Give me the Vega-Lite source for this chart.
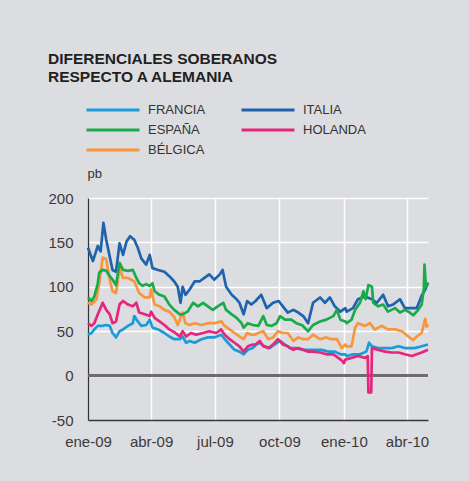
{
  "$schema": "https://vega.github.io/schema/vega-lite/v6.json",
  "width": 340,
  "height": 222,
  "autosize": {"type": "none"},
  "padding": {"left": 88, "top": 198, "right": 41, "bottom": 61},
  "background": "#dcdde0",
  "config": {"view": {"stroke": null}, "font": "Liberation Sans"},
  "title": {
    "text": ["DIFERENCIALES SOBERANOS", "RESPECTO A ALEMANIA"],
    "anchor": "start",
    "frame": "group",
    "dx": -40,
    "dy": -14,
    "font": "Liberation Sans",
    "fontSize": 15.5,
    "fontWeight": "bold",
    "color": "#231f20",
    "lineHeight": 18
  },
  "data": {
    "values": [
      {"d":"2009-01-01","p":"FRANCIA","v":46},{"d":"2009-01-06","p":"FRANCIA","v":48},{"d":"2009-01-10","p":"FRANCIA","v":52},{"d":"2009-01-15","p":"FRANCIA","v":56},{"d":"2009-01-22","p":"FRANCIA","v":56},{"d":"2009-01-27","p":"FRANCIA","v":57},{"d":"2009-02-01","p":"FRANCIA","v":56},{"d":"2009-02-05","p":"FRANCIA","v":48},{"d":"2009-02-10","p":"FRANCIA","v":43},{"d":"2009-02-15","p":"FRANCIA","v":50},{"d":"2009-02-20","p":"FRANCIA","v":52},{"d":"2009-02-27","p":"FRANCIA","v":56},{"d":"2009-03-06","p":"FRANCIA","v":59},{"d":"2009-03-08","p":"FRANCIA","v":67},{"d":"2009-03-13","p":"FRANCIA","v":61},{"d":"2009-03-18","p":"FRANCIA","v":56},{"d":"2009-03-25","p":"FRANCIA","v":57},{"d":"2009-03-30","p":"FRANCIA","v":63},{"d":"2009-04-03","p":"FRANCIA","v":54},{"d":"2009-04-11","p":"FRANCIA","v":52},{"d":"2009-04-20","p":"FRANCIA","v":48},{"d":"2009-04-27","p":"FRANCIA","v":44},{"d":"2009-05-04","p":"FRANCIA","v":41},{"d":"2009-05-12","p":"FRANCIA","v":41},{"d":"2009-05-16","p":"FRANCIA","v":44},{"d":"2009-05-21","p":"FRANCIA","v":37},{"d":"2009-05-26","p":"FRANCIA","v":39},{"d":"2009-06-02","p":"FRANCIA","v":37},{"d":"2009-06-12","p":"FRANCIA","v":41},{"d":"2009-06-21","p":"FRANCIA","v":43},{"d":"2009-06-30","p":"FRANCIA","v":43},{"d":"2009-07-10","p":"FRANCIA","v":46},{"d":"2009-07-15","p":"FRANCIA","v":41},{"d":"2009-07-22","p":"FRANCIA","v":35},{"d":"2009-07-29","p":"FRANCIA","v":29},{"d":"2009-08-05","p":"FRANCIA","v":27},{"d":"2009-08-11","p":"FRANCIA","v":24},{"d":"2009-08-17","p":"FRANCIA","v":29},{"d":"2009-08-24","p":"FRANCIA","v":31},{"d":"2009-08-29","p":"FRANCIA","v":35},{"d":"2009-09-03","p":"FRANCIA","v":37},{"d":"2009-09-10","p":"FRANCIA","v":33},{"d":"2009-09-17","p":"FRANCIA","v":31},{"d":"2009-09-24","p":"FRANCIA","v":35},{"d":"2009-10-02","p":"FRANCIA","v":39},{"d":"2009-10-09","p":"FRANCIA","v":35},{"d":"2009-10-16","p":"FRANCIA","v":31},{"d":"2009-10-25","p":"FRANCIA","v":31},{"d":"2009-11-04","p":"FRANCIA","v":29},{"d":"2009-11-11","p":"FRANCIA","v":29},{"d":"2009-11-21","p":"FRANCIA","v":29},{"d":"2009-11-30","p":"FRANCIA","v":29},{"d":"2009-12-10","p":"FRANCIA","v":27},{"d":"2009-12-19","p":"FRANCIA","v":27},{"d":"2009-12-27","p":"FRANCIA","v":24},{"d":"2010-01-03","p":"FRANCIA","v":24},{"d":"2010-01-05","p":"FRANCIA","v":22},{"d":"2010-01-14","p":"FRANCIA","v":24},{"d":"2010-01-24","p":"FRANCIA","v":24},{"d":"2010-02-02","p":"FRANCIA","v":27},{"d":"2010-02-06","p":"FRANCIA","v":37},{"d":"2010-02-10","p":"FRANCIA","v":33},{"d":"2010-02-19","p":"FRANCIA","v":31},{"d":"2010-03-01","p":"FRANCIA","v":31},{"d":"2010-03-10","p":"FRANCIA","v":31},{"d":"2010-03-20","p":"FRANCIA","v":33},{"d":"2010-03-29","p":"FRANCIA","v":31},{"d":"2010-04-05","p":"FRANCIA","v":31},{"d":"2010-04-12","p":"FRANCIA","v":31},{"d":"2010-04-22","p":"FRANCIA","v":33},{"d":"2010-05-01","p":"FRANCIA","v":35},

      {"d":"2009-01-01","p":"HOLANDA","v":59},{"d":"2009-01-06","p":"HOLANDA","v":56},{"d":"2009-01-10","p":"HOLANDA","v":59},{"d":"2009-01-15","p":"HOLANDA","v":69},{"d":"2009-01-22","p":"HOLANDA","v":82},{"d":"2009-01-27","p":"HOLANDA","v":74},{"d":"2009-02-01","p":"HOLANDA","v":69},{"d":"2009-02-05","p":"HOLANDA","v":59},{"d":"2009-02-10","p":"HOLANDA","v":61},{"d":"2009-02-15","p":"HOLANDA","v":80},{"d":"2009-02-20","p":"HOLANDA","v":84},{"d":"2009-02-27","p":"HOLANDA","v":80},{"d":"2009-03-06","p":"HOLANDA","v":78},{"d":"2009-03-11","p":"HOLANDA","v":82},{"d":"2009-03-15","p":"HOLANDA","v":71},{"d":"2009-03-23","p":"HOLANDA","v":69},{"d":"2009-03-30","p":"HOLANDA","v":67},{"d":"2009-04-01","p":"HOLANDA","v":72},{"d":"2009-04-06","p":"HOLANDA","v":65},{"d":"2009-04-13","p":"HOLANDA","v":61},{"d":"2009-04-20","p":"HOLANDA","v":57},{"d":"2009-04-27","p":"HOLANDA","v":52},{"d":"2009-05-04","p":"HOLANDA","v":49},{"d":"2009-05-12","p":"HOLANDA","v":44},{"d":"2009-05-16","p":"HOLANDA","v":50},{"d":"2009-05-21","p":"HOLANDA","v":44},{"d":"2009-05-28","p":"HOLANDA","v":48},{"d":"2009-06-04","p":"HOLANDA","v":46},{"d":"2009-06-14","p":"HOLANDA","v":48},{"d":"2009-06-23","p":"HOLANDA","v":50},{"d":"2009-07-03","p":"HOLANDA","v":48},{"d":"2009-07-10","p":"HOLANDA","v":52},{"d":"2009-07-15","p":"HOLANDA","v":46},{"d":"2009-07-22","p":"HOLANDA","v":41},{"d":"2009-07-29","p":"HOLANDA","v":37},{"d":"2009-08-05","p":"HOLANDA","v":33},{"d":"2009-08-11","p":"HOLANDA","v":27},{"d":"2009-08-17","p":"HOLANDA","v":33},{"d":"2009-08-24","p":"HOLANDA","v":35},{"d":"2009-08-28","p":"HOLANDA","v":35},{"d":"2009-09-03","p":"HOLANDA","v":39},{"d":"2009-09-08","p":"HOLANDA","v":33},{"d":"2009-09-15","p":"HOLANDA","v":31},{"d":"2009-09-22","p":"HOLANDA","v":35},{"d":"2009-09-29","p":"HOLANDA","v":41},{"d":"2009-10-06","p":"HOLANDA","v":35},{"d":"2009-10-13","p":"HOLANDA","v":33},{"d":"2009-10-21","p":"HOLANDA","v":29},{"d":"2009-10-28","p":"HOLANDA","v":31},{"d":"2009-11-04","p":"HOLANDA","v":29},{"d":"2009-11-11","p":"HOLANDA","v":27},{"d":"2009-11-18","p":"HOLANDA","v":27},{"d":"2009-11-28","p":"HOLANDA","v":26},{"d":"2009-12-07","p":"HOLANDA","v":24},{"d":"2009-12-17","p":"HOLANDA","v":24},{"d":"2009-12-24","p":"HOLANDA","v":20},{"d":"2009-12-29","p":"HOLANDA","v":17},{"d":"2010-01-01","p":"HOLANDA","v":14},{"d":"2010-01-03","p":"HOLANDA","v":18},{"d":"2010-01-12","p":"HOLANDA","v":20},{"d":"2010-01-21","p":"HOLANDA","v":22},{"d":"2010-01-31","p":"HOLANDA","v":20},{"d":"2010-02-04","p":"HOLANDA","v":22},{"d":"2010-02-05","p":"HOLANDA","v":-19},{"d":"2010-02-09","p":"HOLANDA","v":-19},{"d":"2010-02-10","p":"HOLANDA","v":31},{"d":"2010-02-19","p":"HOLANDA","v":29},{"d":"2010-03-01","p":"HOLANDA","v":27},{"d":"2010-03-10","p":"HOLANDA","v":26},{"d":"2010-03-20","p":"HOLANDA","v":26},{"d":"2010-03-29","p":"HOLANDA","v":24},{"d":"2010-04-08","p":"HOLANDA","v":22},{"d":"2010-04-15","p":"HOLANDA","v":24},{"d":"2010-04-22","p":"HOLANDA","v":26},{"d":"2010-05-01","p":"HOLANDA","v":29},

      {"d":"2009-01-01","p":"BÉLGICA","v":82},{"d":"2009-01-06","p":"BÉLGICA","v":80},{"d":"2009-01-13","p":"BÉLGICA","v":86},{"d":"2009-01-17","p":"BÉLGICA","v":104},{"d":"2009-01-22","p":"BÉLGICA","v":133},{"d":"2009-01-27","p":"BÉLGICA","v":131},{"d":"2009-02-01","p":"BÉLGICA","v":108},{"d":"2009-02-05","p":"BÉLGICA","v":95},{"d":"2009-02-10","p":"BÉLGICA","v":93},{"d":"2009-02-15","p":"BÉLGICA","v":121},{"d":"2009-02-20","p":"BÉLGICA","v":110},{"d":"2009-02-27","p":"BÉLGICA","v":110},{"d":"2009-03-08","p":"BÉLGICA","v":106},{"d":"2009-03-15","p":"BÉLGICA","v":93},{"d":"2009-03-23","p":"BÉLGICA","v":88},{"d":"2009-03-30","p":"BÉLGICA","v":88},{"d":"2009-04-01","p":"BÉLGICA","v":97},{"d":"2009-04-06","p":"BÉLGICA","v":80},{"d":"2009-04-13","p":"BÉLGICA","v":78},{"d":"2009-04-20","p":"BÉLGICA","v":74},{"d":"2009-04-27","p":"BÉLGICA","v":72},{"d":"2009-05-04","p":"BÉLGICA","v":66},{"d":"2009-05-09","p":"BÉLGICA","v":57},{"d":"2009-05-16","p":"BÉLGICA","v":71},{"d":"2009-05-20","p":"BÉLGICA","v":59},{"d":"2009-05-26","p":"BÉLGICA","v":57},{"d":"2009-06-02","p":"BÉLGICA","v":59},{"d":"2009-06-12","p":"BÉLGICA","v":57},{"d":"2009-06-21","p":"BÉLGICA","v":59},{"d":"2009-06-30","p":"BÉLGICA","v":59},{"d":"2009-07-10","p":"BÉLGICA","v":61},{"d":"2009-07-15","p":"BÉLGICA","v":56},{"d":"2009-07-22","p":"BÉLGICA","v":52},{"d":"2009-07-29","p":"BÉLGICA","v":48},{"d":"2009-08-05","p":"BÉLGICA","v":44},{"d":"2009-08-11","p":"BÉLGICA","v":41},{"d":"2009-08-16","p":"BÉLGICA","v":48},{"d":"2009-08-22","p":"BÉLGICA","v":46},{"d":"2009-08-27","p":"BÉLGICA","v":46},{"d":"2009-09-01","p":"BÉLGICA","v":48},{"d":"2009-09-08","p":"BÉLGICA","v":50},{"d":"2009-09-15","p":"BÉLGICA","v":41},{"d":"2009-09-22","p":"BÉLGICA","v":43},{"d":"2009-09-29","p":"BÉLGICA","v":50},{"d":"2009-10-06","p":"BÉLGICA","v":48},{"d":"2009-10-13","p":"BÉLGICA","v":48},{"d":"2009-10-21","p":"BÉLGICA","v":39},{"d":"2009-10-28","p":"BÉLGICA","v":43},{"d":"2009-11-04","p":"BÉLGICA","v":41},{"d":"2009-11-11","p":"BÉLGICA","v":41},{"d":"2009-11-18","p":"BÉLGICA","v":46},{"d":"2009-11-28","p":"BÉLGICA","v":41},{"d":"2009-12-07","p":"BÉLGICA","v":43},{"d":"2009-12-14","p":"BÉLGICA","v":41},{"d":"2009-12-22","p":"BÉLGICA","v":41},{"d":"2009-12-29","p":"BÉLGICA","v":31},{"d":"2010-01-03","p":"BÉLGICA","v":35},{"d":"2010-01-05","p":"BÉLGICA","v":33},{"d":"2010-01-12","p":"BÉLGICA","v":33},{"d":"2010-01-17","p":"BÉLGICA","v":54},{"d":"2010-01-21","p":"BÉLGICA","v":59},{"d":"2010-01-31","p":"BÉLGICA","v":56},{"d":"2010-02-07","p":"BÉLGICA","v":59},{"d":"2010-02-14","p":"BÉLGICA","v":52},{"d":"2010-02-24","p":"BÉLGICA","v":56},{"d":"2010-03-05","p":"BÉLGICA","v":52},{"d":"2010-03-15","p":"BÉLGICA","v":52},{"d":"2010-03-25","p":"BÉLGICA","v":50},{"d":"2010-04-03","p":"BÉLGICA","v":44},{"d":"2010-04-10","p":"BÉLGICA","v":40},{"d":"2010-04-15","p":"BÉLGICA","v":44},{"d":"2010-04-22","p":"BÉLGICA","v":48},{"d":"2010-04-27","p":"BÉLGICA","v":64},{"d":"2010-04-29","p":"BÉLGICA","v":55},{"d":"2010-05-01","p":"BÉLGICA","v":58},

      {"d":"2009-01-01","p":"ITALIA","v":144},{"d":"2009-01-08","p":"ITALIA","v":129},{"d":"2009-01-15","p":"ITALIA","v":146},{"d":"2009-01-19","p":"ITALIA","v":140},{"d":"2009-01-23","p":"ITALIA","v":172},{"d":"2009-01-27","p":"ITALIA","v":153},{"d":"2009-02-01","p":"ITALIA","v":134},{"d":"2009-02-05","p":"ITALIA","v":119},{"d":"2009-02-10","p":"ITALIA","v":117},{"d":"2009-02-15","p":"ITALIA","v":149},{"d":"2009-02-20","p":"ITALIA","v":136},{"d":"2009-02-25","p":"ITALIA","v":151},{"d":"2009-03-02","p":"ITALIA","v":157},{"d":"2009-03-08","p":"ITALIA","v":153},{"d":"2009-03-13","p":"ITALIA","v":144},{"d":"2009-03-18","p":"ITALIA","v":132},{"d":"2009-03-25","p":"ITALIA","v":125},{"d":"2009-03-30","p":"ITALIA","v":136},{"d":"2009-04-03","p":"ITALIA","v":121},{"d":"2009-04-11","p":"ITALIA","v":119},{"d":"2009-04-20","p":"ITALIA","v":117},{"d":"2009-04-27","p":"ITALIA","v":112},{"d":"2009-05-04","p":"ITALIA","v":106},{"d":"2009-05-09","p":"ITALIA","v":100},{"d":"2009-05-13","p":"ITALIA","v":82},{"d":"2009-05-16","p":"ITALIA","v":100},{"d":"2009-05-20","p":"ITALIA","v":91},{"d":"2009-05-26","p":"ITALIA","v":97},{"d":"2009-06-02","p":"ITALIA","v":106},{"d":"2009-06-09","p":"ITALIA","v":106},{"d":"2009-06-16","p":"ITALIA","v":110},{"d":"2009-06-23","p":"ITALIA","v":114},{"d":"2009-06-30","p":"ITALIA","v":108},{"d":"2009-07-08","p":"ITALIA","v":114},{"d":"2009-07-12","p":"ITALIA","v":119},{"d":"2009-07-17","p":"ITALIA","v":100},{"d":"2009-07-25","p":"ITALIA","v":91},{"d":"2009-08-01","p":"ITALIA","v":86},{"d":"2009-08-05","p":"ITALIA","v":82},{"d":"2009-08-11","p":"ITALIA","v":69},{"d":"2009-08-16","p":"ITALIA","v":84},{"d":"2009-08-22","p":"ITALIA","v":80},{"d":"2009-08-28","p":"ITALIA","v":84},{"d":"2009-09-05","p":"ITALIA","v":91},{"d":"2009-09-13","p":"ITALIA","v":76},{"d":"2009-09-22","p":"ITALIA","v":82},{"d":"2009-09-30","p":"ITALIA","v":84},{"d":"2009-10-06","p":"ITALIA","v":78},{"d":"2009-10-13","p":"ITALIA","v":71},{"d":"2009-10-21","p":"ITALIA","v":74},{"d":"2009-10-28","p":"ITALIA","v":71},{"d":"2009-11-04","p":"ITALIA","v":67},{"d":"2009-11-11","p":"ITALIA","v":59},{"d":"2009-11-18","p":"ITALIA","v":82},{"d":"2009-11-28","p":"ITALIA","v":88},{"d":"2009-12-05","p":"ITALIA","v":82},{"d":"2009-12-12","p":"ITALIA","v":88},{"d":"2009-12-19","p":"ITALIA","v":78},{"d":"2009-12-27","p":"ITALIA","v":72},{"d":"2010-01-03","p":"ITALIA","v":76},{"d":"2010-01-05","p":"ITALIA","v":72},{"d":"2010-01-14","p":"ITALIA","v":76},{"d":"2010-01-21","p":"ITALIA","v":86},{"d":"2010-01-31","p":"ITALIA","v":89},{"d":"2010-02-10","p":"ITALIA","v":86},{"d":"2010-02-17","p":"ITALIA","v":82},{"d":"2010-02-26","p":"ITALIA","v":91},{"d":"2010-03-05","p":"ITALIA","v":78},{"d":"2010-03-12","p":"ITALIA","v":80},{"d":"2010-03-22","p":"ITALIA","v":86},{"d":"2010-03-29","p":"ITALIA","v":76},{"d":"2010-04-08","p":"ITALIA","v":76},{"d":"2010-04-15","p":"ITALIA","v":76},{"d":"2010-04-22","p":"ITALIA","v":90},{"d":"2010-04-27","p":"ITALIA","v":97},{"d":"2010-05-01","p":"ITALIA","v":104},

      {"d":"2009-01-01","p":"ESPAÑA","v":88},{"d":"2009-01-06","p":"ESPAÑA","v":84},{"d":"2009-01-10","p":"ESPAÑA","v":89},{"d":"2009-01-15","p":"ESPAÑA","v":104},{"d":"2009-01-17","p":"ESPAÑA","v":116},{"d":"2009-01-22","p":"ESPAÑA","v":119},{"d":"2009-01-27","p":"ESPAÑA","v":118},{"d":"2009-02-01","p":"ESPAÑA","v":112},{"d":"2009-02-05","p":"ESPAÑA","v":108},{"d":"2009-02-10","p":"ESPAÑA","v":102},{"d":"2009-02-15","p":"ESPAÑA","v":127},{"d":"2009-02-20","p":"ESPAÑA","v":119},{"d":"2009-02-27","p":"ESPAÑA","v":118},{"d":"2009-03-06","p":"ESPAÑA","v":119},{"d":"2009-03-11","p":"ESPAÑA","v":110},{"d":"2009-03-15","p":"ESPAÑA","v":104},{"d":"2009-03-20","p":"ESPAÑA","v":101},{"d":"2009-03-25","p":"ESPAÑA","v":103},{"d":"2009-03-30","p":"ESPAÑA","v":101},{"d":"2009-04-03","p":"ESPAÑA","v":104},{"d":"2009-04-06","p":"ESPAÑA","v":95},{"d":"2009-04-13","p":"ESPAÑA","v":91},{"d":"2009-04-20","p":"ESPAÑA","v":89},{"d":"2009-04-27","p":"ESPAÑA","v":80},{"d":"2009-05-04","p":"ESPAÑA","v":74},{"d":"2009-05-12","p":"ESPAÑA","v":69},{"d":"2009-05-16","p":"ESPAÑA","v":69},{"d":"2009-05-23","p":"ESPAÑA","v":72},{"d":"2009-05-31","p":"ESPAÑA","v":82},{"d":"2009-06-07","p":"ESPAÑA","v":78},{"d":"2009-06-14","p":"ESPAÑA","v":82},{"d":"2009-06-21","p":"ESPAÑA","v":78},{"d":"2009-06-28","p":"ESPAÑA","v":74},{"d":"2009-07-05","p":"ESPAÑA","v":78},{"d":"2009-07-13","p":"ESPAÑA","v":82},{"d":"2009-07-17","p":"ESPAÑA","v":74},{"d":"2009-07-25","p":"ESPAÑA","v":69},{"d":"2009-08-01","p":"ESPAÑA","v":65},{"d":"2009-08-08","p":"ESPAÑA","v":59},{"d":"2009-08-11","p":"ESPAÑA","v":54},{"d":"2009-08-17","p":"ESPAÑA","v":59},{"d":"2009-08-24","p":"ESPAÑA","v":57},{"d":"2009-09-01","p":"ESPAÑA","v":56},{"d":"2009-09-08","p":"ESPAÑA","v":67},{"d":"2009-09-13","p":"ESPAÑA","v":57},{"d":"2009-09-20","p":"ESPAÑA","v":56},{"d":"2009-09-27","p":"ESPAÑA","v":59},{"d":"2009-10-02","p":"ESPAÑA","v":67},{"d":"2009-10-09","p":"ESPAÑA","v":63},{"d":"2009-10-18","p":"ESPAÑA","v":63},{"d":"2009-10-25","p":"ESPAÑA","v":59},{"d":"2009-11-02","p":"ESPAÑA","v":57},{"d":"2009-11-11","p":"ESPAÑA","v":50},{"d":"2009-11-18","p":"ESPAÑA","v":57},{"d":"2009-11-28","p":"ESPAÑA","v":61},{"d":"2009-12-07","p":"ESPAÑA","v":63},{"d":"2009-12-17","p":"ESPAÑA","v":67},{"d":"2009-12-22","p":"ESPAÑA","v":74},{"d":"2009-12-27","p":"ESPAÑA","v":63},{"d":"2010-01-03","p":"ESPAÑA","v":61},{"d":"2010-01-05","p":"ESPAÑA","v":59},{"d":"2010-01-12","p":"ESPAÑA","v":63},{"d":"2010-01-17","p":"ESPAÑA","v":74},{"d":"2010-01-24","p":"ESPAÑA","v":82},{"d":"2010-01-29","p":"ESPAÑA","v":95},{"d":"2010-02-01","p":"ESPAÑA","v":86},{"d":"2010-02-05","p":"ESPAÑA","v":102},{"d":"2010-02-10","p":"ESPAÑA","v":100},{"d":"2010-02-12","p":"ESPAÑA","v":82},{"d":"2010-02-19","p":"ESPAÑA","v":78},{"d":"2010-02-26","p":"ESPAÑA","v":80},{"d":"2010-03-05","p":"ESPAÑA","v":72},{"d":"2010-03-15","p":"ESPAÑA","v":76},{"d":"2010-03-22","p":"ESPAÑA","v":71},{"d":"2010-03-29","p":"ESPAÑA","v":74},{"d":"2010-04-05","p":"ESPAÑA","v":71},{"d":"2010-04-10","p":"ESPAÑA","v":68},{"d":"2010-04-17","p":"ESPAÑA","v":74},{"d":"2010-04-22","p":"ESPAÑA","v":80},{"d":"2010-04-25","p":"ESPAÑA","v":97},{"d":"2010-04-26","p":"ESPAÑA","v":125},{"d":"2010-04-28","p":"ESPAÑA","v":100},{"d":"2010-05-01","p":"ESPAÑA","v":105}
    ]
  },
  "layer": [
    {
      "mark": {"type": "rule", "color": "#6d6d6d", "strokeWidth": 1.5},
      "encoding": {"y": {"datum": 0, "type": "quantitative"}}
    },
    {
      "mark": {"type": "line", "strokeWidth": 2.7, "strokeJoin": "round"},
      "encoding": {
        "x": {
          "field": "d",
          "type": "temporal",
          "scale": {"type": "utc", "domain": [{"year": 2009, "month": 1, "date": 1, "utc": true}, {"year": 2010, "month": 5, "date": 1, "utc": true}]},
          "axis": {
            "title": null,
            "values": [
              {"year": 2009, "month": 1, "date": 1, "utc": true},
              {"year": 2009, "month": 4, "date": 1, "utc": true},
              {"year": 2009, "month": 7, "date": 1, "utc": true},
              {"year": 2009, "month": 10, "date": 1, "utc": true},
              {"year": 2010, "month": 1, "date": 1, "utc": true},
              {"year": 2010, "month": 4, "date": 1, "utc": true}
            ],
            "labelExpr": "['ene','feb','mar','abr','may','jun','jul','ago','sep','oct','nov','dic'][utcmonth(datum.value)] + '-' + utcFormat(datum.value, '%y')",
            "grid": true,
            "gridColor": "#ffffff",
            "gridWidth": 1.5,
            "gridOpacity": 1,
            "domainColor": "#333333",
            "domainWidth": 1.3,
            "ticks": false,
            "labelFlush": false,
            "labelOverlap": false,
            "labelBound": false,
            "labelPadding": 14,
            "labelFont": "Liberation Sans",
            "labelFontSize": 15,
            "labelColor": "#3a3a3a"
          }
        },
        "y": {
          "field": "v",
          "type": "quantitative",
          "scale": {"domain": [-50, 200], "nice": false},
          "axis": {
            "title": "pb",
            "titleAngle": 0,
            "titleX": -1,
            "titleY": -21,
            "titleAlign": "left",
            "titleBaseline": "alphabetic",
            "titleFont": "Liberation Sans",
            "titleFontSize": 13,
            "titleFontWeight": "normal",
            "titleColor": "#333333",
            "values": [-50, 0, 50, 100, 150, 200],
            "labelExpr": "(datum.value < 0 ? '-' : '') + format(abs(datum.value), 'd')",
            "grid": true,
            "gridColor": "#ffffff",
            "gridWidth": 1.5,
            "gridOpacity": 1,
            "domainColor": "#333333",
            "domainWidth": 1.3,
            "ticks": false,
            "labelPadding": 15,
            "labelFont": "Liberation Sans",
            "labelFontSize": 15,
            "labelColor": "#3a3a3a"
          }
        },
        "color": {
          "field": "p",
          "type": "nominal",
          "scale": {
            "domain": ["FRANCIA", "ESPAÑA", "BÉLGICA", "ITALIA", "HOLANDA"],
            "range": ["#1b9bd7", "#1aaa4b", "#f7963a", "#1f63ae", "#e5267c"]
          },
          "legend": {
            "title": null,
            "orient": "none",
            "legendX": -3,
            "legendY": -95,
            "columns": 2,
            "symbolType": "stroke",
            "symbolSize": 2809,
            "symbolStrokeWidth": 3,
            "clipHeight": 14,
            "labelFont": "Liberation Sans",
            "labelFontSize": 13,
            "labelColor": "#333333",
            "labelOffset": 7,
            "columnPadding": 34,
            "rowPadding": 6
          }
        }
      }
    }
  ]
}
